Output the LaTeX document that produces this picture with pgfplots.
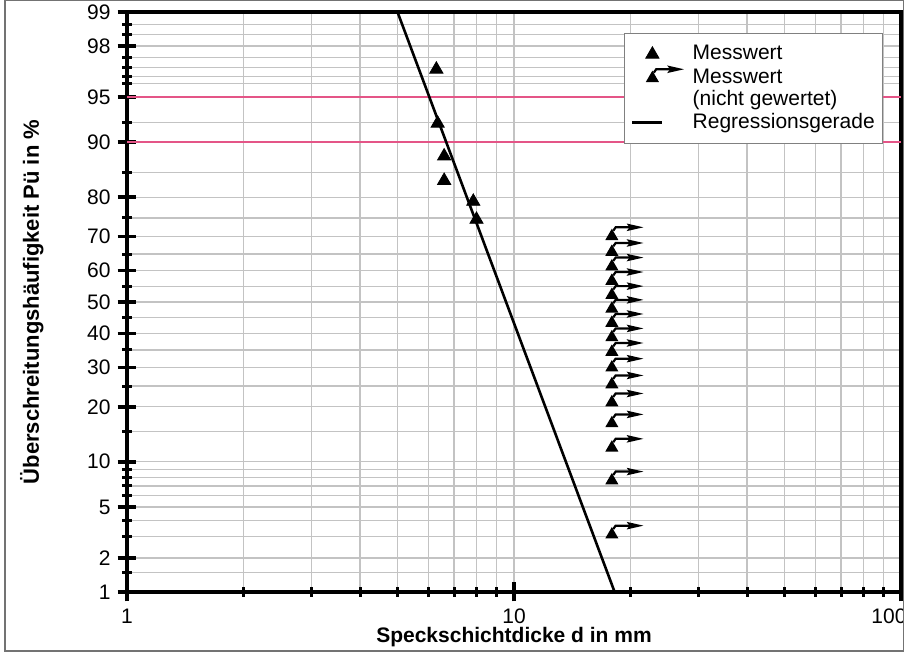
\documentclass[border=0pt]{standalone}
\usepackage{pgfplots}
\pgfplotsset{compat=1.18}
\usepackage{fontspec}
\setmainfont{Liberation Sans}

\definecolor{gridgray}{RGB}{195,195,195}
\definecolor{limitpink}{RGB}{228,85,135}

% triangle with a bent arrow: value not counted (censored)
\pgfdeclareplotmark{censored}{%
  \pgfpathmoveto{\pgfqpoint{0pt}{3.8pt}}%
  \pgfpathlineto{\pgfqpoint{-3.3pt}{-1.9pt}}%
  \pgfpathlineto{\pgfqpoint{3.3pt}{-1.9pt}}%
  \pgfpathclose
  \pgfusepathqfill
  \pgfsetlinewidth{1.1pt}%
  \pgfpathmoveto{\pgfqpoint{0.7pt}{2.8pt}}%
  \pgfpathlineto{\pgfqpoint{1.9pt}{4.5pt}}%
  \pgfpathlineto{\pgfqpoint{9pt}{4.5pt}}%
  \pgfusepathqstroke
  \pgfpathmoveto{\pgfqpoint{15.8pt}{4.5pt}}%
  \pgfpathlineto{\pgfqpoint{7.4pt}{6.4pt}}%
  \pgfpathlineto{\pgfqpoint{8.8pt}{4.5pt}}%
  \pgfpathlineto{\pgfqpoint{7.4pt}{2.6pt}}%
  \pgfpathclose
  \pgfusepathqfill
}

\pgfplotsset{
  leg mark/.style={legend image code/.code={%
    \draw[##1] plot coordinates {(10pt,0pt)}; \path (0pt,0pt) (29pt,0pt);}},
  leg line/.style={legend image code/.code={%
    \draw[##1] (0pt,0pt) -- (15pt,0pt); \path (29pt,0pt);}},
  leg none/.style={legend image code/.code={\path (0pt,0pt) (29pt,0pt);}},
}

\begin{document}
\begin{tikzpicture}
\useasboundingbox (0,0) rectangle (452pt,326pt);
\begin{axis}[
  at={(63.5pt,30pt)}, anchor=south west,
  scale only axis, width=387pt, height=290pt,
  xmode=log, xmin=1, xmax=100,
  ymin=1, ymax=99,
  % normal probability scale (Abramowitz-Stegun 26.2.23)
  y coord trafo/.code={%
    \begingroup
    \pgfkeys{/pgf/fpu=true, /pgf/fpu/output format=fixed}%
    \pgfmathsetmacro\pP{#1/100}%
    \pgfmathsetmacro\pQ{min(\pP,1-\pP)}%
    \pgfmathsetmacro\pT{sqrt(-2*ln(\pQ))}%
    \pgfmathsetmacro\pZ{\pT-(2.515517+0.802853*\pT+0.010328*\pT*\pT)/(1+1.432788*\pT+0.189269*\pT*\pT+0.001308*\pT*\pT*\pT)}%
    \pgfmathparse{\pP<0.5 ? -1*(\pZ) : \pZ}%
    \xdef\probitres{\pgfmathresult}%
    \endgroup
    \let\pgfmathresult\probitres
  },
  font=\fontsize{10.5}{12}\selectfont,
  /pgf/number format/assume math mode=true,
  xtick pos=bottom, ytick pos=left,
  xtick={1,10,100}, xticklabels={1,10,{100\hspace*{12pt}}},
  minor xtick={2,3,4,5,6,7,8,9,20,30,40,50,60,70,80,90},
  ytick={1,2,5,10,20,30,40,50,60,70,80,90,95,98,99},
  yticklabels={1,2,5,10,20,30,40,50,60,70,80,90,95,98,99},
  minor ytick={1.5,3,4,6,7,8,9,15,25,35,45,55,65,75,85,92.5,96,96.5,97,97.5,98.4,98.7},
  xmajorgrids, xminorgrids, ymajorgrids, yminorgrids,
  major grid style={gridgray, line width=0.6pt},
  minor grid style={gridgray, line width=0.6pt},
  axis line style={line width=2pt},
  tick align=center,
  major tick length=9.5pt, minor tick length=5pt,
  major tick style={black, line width=1.8pt},
  minor tick style={black, line width=1.5pt},
  xlabel={Speckschichtdicke d in mm},
  ylabel={Überschreitungshäufigkeit Pü in \%},
  label style={font=\fontsize{10.5}{12}\selectfont\bfseries},
  xlabel style={at={(axis description cs:0.5,-0.078)}, anchor=center},
  ylabel style={at={(axis description cs:-0.123,0.5)}, anchor=center,
    font=\fontsize{11}{13}\selectfont\bfseries},
  legend cell align=left,
  legend style={at={(axis description cs:0.977,0.964)}, anchor=north east,
    draw=gray, thin, fill=white, inner xsep=3.5pt, inner ysep=5pt, row sep=0pt,
    nodes={inner sep=0.5pt, text height=7.8pt, text depth=2.3pt},
    font=\fontsize{10.5}{12}\selectfont},
]
\addplot [limitpink, line width=0.8pt, forget plot] coordinates {(1,95) (100,95)};
\addplot [limitpink, line width=0.8pt, forget plot] coordinates {(1,90) (100,90)};

% Messwert
\addplot [only marks, mark=triangle*, mark size=3.8pt, black, leg mark]
  coordinates {
  (6.3,96.9) (6.35,92.4) (6.6,87.9) (6.6,83.5) (7.85,79.0) (8.0,74.6)
};
\addlegendentry{Messwert}

% Messwert (nicht gewertet)
\addplot [only marks, mark=censored, black, leg mark]
  coordinates {
  (17.9,3.1) (17.9,7.6) (17.9,12.1) (17.9,16.5) (17.9,21.0) (17.9,25.4)
  (17.9,29.9) (17.9,34.4) (17.9,38.8) (17.9,43.3) (17.9,47.8) (17.9,52.2)
  (17.9,56.7) (17.9,61.2) (17.9,65.6) (17.9,70.1)
};
\addlegendentry{Messwert}
\addlegendimage{leg none}
\addlegendentry{(nicht gewertet)}

% Regressionsgerade
\addplot [black, line width=1.3pt, mark=none, leg line]
  coordinates {(5.0,99) (18.2,1)};
\addlegendentry{Regressionsgerade}
\end{axis}
\draw[black!55, line width=0.7pt] (2.5pt,0.5pt) rectangle (451.6pt,325.6pt);
\end{tikzpicture}
\end{document}
